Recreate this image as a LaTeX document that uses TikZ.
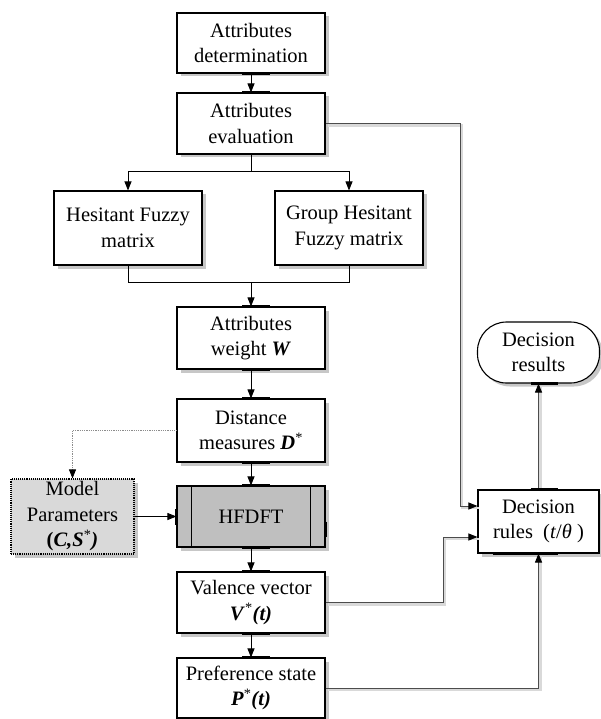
\documentclass[tikz,border=0pt]{standalone}
\usepackage{fontspec}
\setmainfont{Liberation Serif}
\usetikzlibrary{arrows.meta,shadows,calc}
\begin{document}
\begin{tikzpicture}[x=1pt,y=-1pt,
  box/.style={draw, line width=1.1pt, fill=white, minimum width=148pt, align=center, inner sep=0pt,
    font=\fontsize{20.5}{25.5}\selectfont,
    general shadow={fill=black!22, shadow xshift=3.5pt, shadow yshift=-3.5pt}},
  conn/.style={line width=0.9pt, -{Triangle[length=9pt,width=7pt]}},
  conn2/.style={line width=0.9pt, draw=black!70, -{Triangle[length=9pt,width=7pt,color=black]},
    preaction={draw=black!15, line width=2.5pt, -, transform canvas={shift={(2pt,-2pt)}}}},
  thickseg/.style={line width=2.6pt},
]
\useasboundingbox (0,0) rectangle (601,719);

% nodes
\node[box, minimum height=60pt] (b1) at (251,43) {Attributes\\determination};
\node[box, minimum height=61pt] (b2) at (251,123.5) {Attributes\\evaluation};
\node[box, minimum height=74pt] (hf) at (128,228) {Hesitant Fuzzy\\matrix};
\node[box, minimum height=74pt] (ghf) at (349,228) {Group Hesitant\\Fuzzy matrix};
\node[box, minimum height=62pt] (b3) at (251,338) {Attributes\\weight \textbf{\textit{W}}};
\node[box, minimum height=63pt] (b4) at (251,430.5) {Distance\\measures \textbf{\textit{D}}\textsuperscript{*}};
\node[box, minimum height=61pt, fill=black!25] (hfdft) at (251,516.5) {HFDFT};
\node[box, minimum height=75pt, minimum width=123pt, fill=black!15, densely dotted,
  font=\fontsize{20.5}{25.5}\selectfont] (model) at (72.5,516.5)
  {Model\\Parameters\\\textbf{(\textit{C,S}}\textsuperscript{*}\textbf{\textit{)}}};
\node[box, minimum height=61pt] (v) at (251,602.5) {Valence vector\\\textbf{\textit{V}}\textsuperscript{*}\textbf{\textit{(t)}}};
\node[box, minimum height=60pt] (p) at (251,688) {Preference state\\\textbf{\textit{P}}\textsuperscript{*}\textbf{\textit{(t)}}};
\node[box, minimum height=61pt, minimum width=122pt, rounded corners=29pt] (dres) at (538.5,352.5) {Decision\\results};
\node[box, minimum height=63pt, minimum width=121pt] (drules) at (538.5,521.5) {Decision\\rules~~(\textit{t}/\textit{θ}~)};

% HFDFT inner bars
\draw[line width=1.1pt] ($(hfdft.north west)+(15,0)$) -- ($(hfdft.south west)+(15,0)$);
\draw[line width=1.1pt] ($(hfdft.north east)+(-15,0)$) -- ($(hfdft.south east)+(-15,0)$);

% coordinates
\coordinate (split) at ($(b2.south)+(0,17)$);
\coordinate (merge) at ($(b3.north)+(0,-24)$);
\coordinate (c1) at (460,0);
\coordinate (c2) at (443,0);

% main connectors
\draw[conn] (b1) -- (b2);
\draw[line width=0.9pt] (b2.south) -- (split);
\draw[conn] (split) -| (hf.north);
\draw[conn] (split) -| (ghf.north);
\draw[line width=0.9pt] (hf.south) |- (merge) -| (ghf.south);
\draw[conn] (merge) -- (b3.north);
\draw[conn] (b3) -- (b4);
\draw[conn] (b4) -- (hfdft);
\draw[conn] (hfdft) -- (v);
\draw[conn] (v) -- (p);
\draw[line width=0.8pt, draw=black!45, densely dotted, -{Triangle[length=9pt,width=7pt,color=black]}] (b4.west) -| (model.north);
\draw[conn] (model.east) -- (hfdft.west);

% right-hand connectors
\draw[conn2] (b2.east) -- (b2.east -| c1) |- ($(drules.west)+(0,-15.5)$);
\draw[conn2] (v.east) -- (v.east -| c2) |- ($(drules.west)+(0,15.5)$);
\draw[conn2] (p.east) -| (drules.south);
\draw[conn2] (drules.north) -- (dres.south);

% thick connection marks
\foreach \n in {b1.south,b2.north,b3.north,b3.south,b4.north,b4.south,hfdft.north,hfdft.south,v.north,v.south,p.north}
  \draw[thickseg] ($(\n)+(-9,0)$) -- ($(\n)+(19,0)$);
\draw[thickseg] ($(dres.south)+(-8,0)$) -- ($(dres.south)+(19,0)$);
\draw[thickseg] ($(drules.north)+(-8,0)$) -- ($(drules.north)+(19,0)$);
\draw[thickseg] ($(drules.south)+(-46,0)$) -- ($(drules.south)+(19,0)$);
\draw[thickseg] ($(hfdft.west)+(0,-8)$) -- ($(hfdft.west)+(0,8)$);
\draw[thickseg] ($(hfdft.east)+(0,5)$) -- ($(hfdft.east)+(0,20)$);
\end{tikzpicture}
\end{document}
